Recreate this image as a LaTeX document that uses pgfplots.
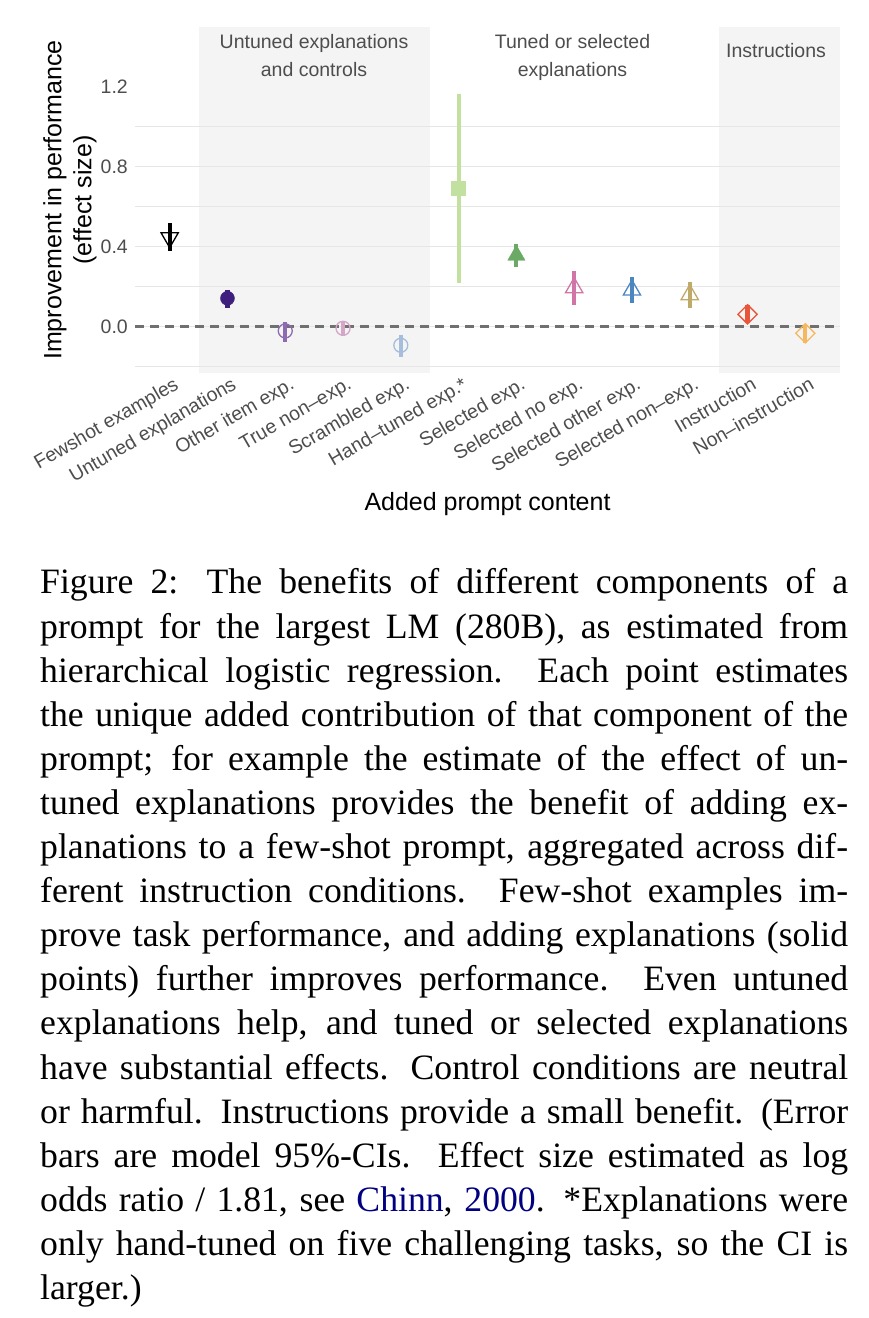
\documentclass[border=0pt]{standalone}
\usepackage{pgfplots}
\pgfplotsset{compat=1.18}
\usepackage{fontspec}
\setmainfont{Liberation Serif}
\newfontfamily\arial{Liberation Sans}
\definecolor{navy}{RGB}{0,0,128}
\definecolor{txtgray}{RGB}{77,77,77}
\definecolor{panelgray}{RGB}{244,244,244}
\definecolor{gridgray}{RGB}{230,230,230}
\definecolor{zerogray}{RGB}{112,112,112}
\definecolor{cFew}{RGB}{0,0,0}
\definecolor{cUnt}{RGB}{63,31,125}
\definecolor{cOth}{RGB}{140,107,177}
\definecolor{cTru}{RGB}{212,166,200}
\definecolor{cScr}{RGB}{166,189,219}
\definecolor{cHan}{RGB}{194,224,160}
\definecolor{cSel}{RGB}{106,170,100}
\definecolor{cSno}{RGB}{209,117,168}
\definecolor{cSot}{RGB}{74,134,192}
\definecolor{cSnn}{RGB}{191,170,106}
\definecolor{cIns}{RGB}{232,85,58}
\definecolor{cNin}{RGB}{245,184,96}
\begin{document}
\begin{tikzpicture}
\useasboundingbox (0,0) rectangle (868pt,1318pt);
\begin{axis}[
  at={(135pt,945.3pt)}, anchor=south west,
  scale only axis, width=705pt, height=346pt,
  xmin=-0.6, xmax=11.6, ymin=-0.23, ymax=1.5,
  axis line style={draw=none},
  major tick length=0pt,
  xtick={0,1,2,3,4,5,6,7,8,9,10,11},
  xticklabels={Fewshot examples,Untuned explanations,Other item exp.,True non–exp.,Scrambled exp.,Hand–tuned exp.*,Selected exp.,Selected no exp.,Selected other exp.,Selected non–exp.,Instruction,Non–instruction},
  ytick={0,0.4,0.8,1.2},
  yticklabels={0.0,0.4,0.8,1.2},
  ticklabel style={font=\arial\fontsize{19.5}{22}\selectfont, text=txtgray, inner sep=0pt},
  yticklabel style={anchor=east, xshift=-7pt},
  xticklabel style={xshift=3pt, yshift=-3pt, rotate=30, anchor=north east},
  error bars/y dir=both, error bars/y explicit,
  error bars/error mark=none,
  error bars/error bar style={line width=4.2pt},
]
\fill[panelgray] (axis cs:0.5,-0.23) rectangle (axis cs:4.5,1.5);
\fill[panelgray] (axis cs:9.5,-0.23) rectangle (axis cs:11.6,1.5);
\pgfplotsinvokeforeach{-0.2,0,0.2,0.4,0.6,0.8,1.0}{
  \draw[gridgray, line width=1.1pt] (axis cs:-0.6,#1) -- (axis cs:11.6,#1);
}
\draw[zerogray, line width=2.5pt, dash pattern=on 9pt off 6pt] (axis cs:-0.6,0) -- (axis cs:11.6,0);

\addplot[cFew, only marks, mark=triangle, mark size=10pt, mark options={rotate=180, line width=1.3pt}]
  coordinates {(0,0.445) += (0,0.075) -= (0,0.067)};
\addplot[cUnt, only marks, mark=*, mark size=7pt]
  coordinates {(1,0.142) += (0,0.041) -= (0,0.047)};
\addplot[cOth, only marks, mark=o, mark size=7pt, mark options={line width=1.3pt}]
  coordinates {(2,-0.021) += (0,0.045) -= (0,0.054)};
\addplot[cTru, only marks, mark=o, mark size=7pt, mark options={line width=1.3pt}]
  coordinates {(3,-0.008) += (0,0.033) -= (0,0.038)};
\addplot[cScr, only marks, mark=o, mark size=7pt, mark options={line width=1.3pt}]
  coordinates {(4,-0.093) += (0,0.052) -= (0,0.057)};
\addplot[cHan, only marks, mark=square*, mark size=7pt]
  coordinates {(5,0.693) += (0,0.469) -= (0,0.473)};
\addplot[cSel, only marks, mark=triangle*, mark size=10pt]
  coordinates {(6,0.357) += (0,0.056) -= (0,0.057)};
\addplot[cSno, only marks, mark=triangle, mark size=10pt, mark options={line width=1.3pt}]
  coordinates {(7,0.195) += (0,0.083) -= (0,0.087)};
\addplot[cSot, only marks, mark=triangle, mark size=10pt, mark options={line width=1.3pt}]
  coordinates {(8,0.183) += (0,0.065) -= (0,0.065)};
\addplot[cSnn, only marks, mark=triangle, mark size=10pt, mark options={line width=1.3pt}]
  coordinates {(9,0.16) += (0,0.063) -= (0,0.065)};
\addplot[cIns, only marks, mark=square, mark size=6.8pt, mark options={rotate=45, line width=1.3pt}]
  coordinates {(10,0.062) += (0,0.045) -= (0,0.045)};
\addplot[cNin, only marks, mark=square, mark size=6.8pt, mark options={rotate=45, line width=1.3pt}]
  coordinates {(11,-0.033) += (0,0.042) -= (0,0.05)};
\end{axis}

% group labels
\node[anchor=base, font=\arial\fontsize{19.5}{22}\selectfont, text=txtgray, inner sep=0pt] at (314pt,1269.7pt) {Untuned explanations};
\node[anchor=base, font=\arial\fontsize{19.5}{22}\selectfont, text=txtgray, inner sep=0pt] at (314pt,1241.3pt) {and controls};
\node[anchor=base, font=\arial\fontsize{19.5}{22}\selectfont, text=txtgray, inner sep=0pt] at (572.5pt,1269.7pt) {Tuned or selected};
\node[anchor=base, font=\arial\fontsize{19.5}{22}\selectfont, text=txtgray, inner sep=0pt] at (572.5pt,1241.3pt) {explanations};
\node[anchor=base, font=\arial\fontsize{19.5}{22}\selectfont, text=txtgray, inner sep=0pt] at (776pt,1260.7pt) {Instructions};

% axis titles
\node[rotate=90, align=center, font=\arial\fontsize{25}{30}\selectfont, inner sep=0pt] at (70pt,1118pt) {Improvement in performance\\(effect size)};
\node[anchor=base, font=\arial\fontsize{25}{30}\selectfont, inner sep=0pt] at (487.5pt,807pt) {Added prompt content};

% caption
\node[anchor=base west, inner sep=0pt, text width=808pt, align=justify, font=\fontsize{35.7}{44.1}\selectfont] at (40pt,724pt) {Figure 2: The benefits of different components of a\linebreak
prompt for the largest LM (280B), as estimated from\linebreak
hierarchical logistic regression. Each point estimates\linebreak
the unique added contribution of that component of the\linebreak
prompt; for example the estimate of the effect of un-\linebreak
tuned explanations provides the benefit of adding ex-\linebreak
planations to a few-shot prompt, aggregated across dif-\linebreak
ferent instruction conditions. Few-shot examples im-\linebreak
prove task performance, and adding explanations (solid\linebreak
points) further improves performance. Even untuned\linebreak
explanations help, and tuned or selected explanations\linebreak
have substantial effects. Control conditions are neutral\linebreak
or harmful. Instructions provide a small benefit. (Error\linebreak
bars are model 95\%-CIs. Effect size estimated as log\linebreak
odds ratio / 1.81, see {\color{navy}Chinn}, {\color{navy}2000}. *Explanations were\linebreak
only hand-tuned on five challenging tasks, so the CI is\linebreak
larger.)};
\end{tikzpicture}
\end{document}
